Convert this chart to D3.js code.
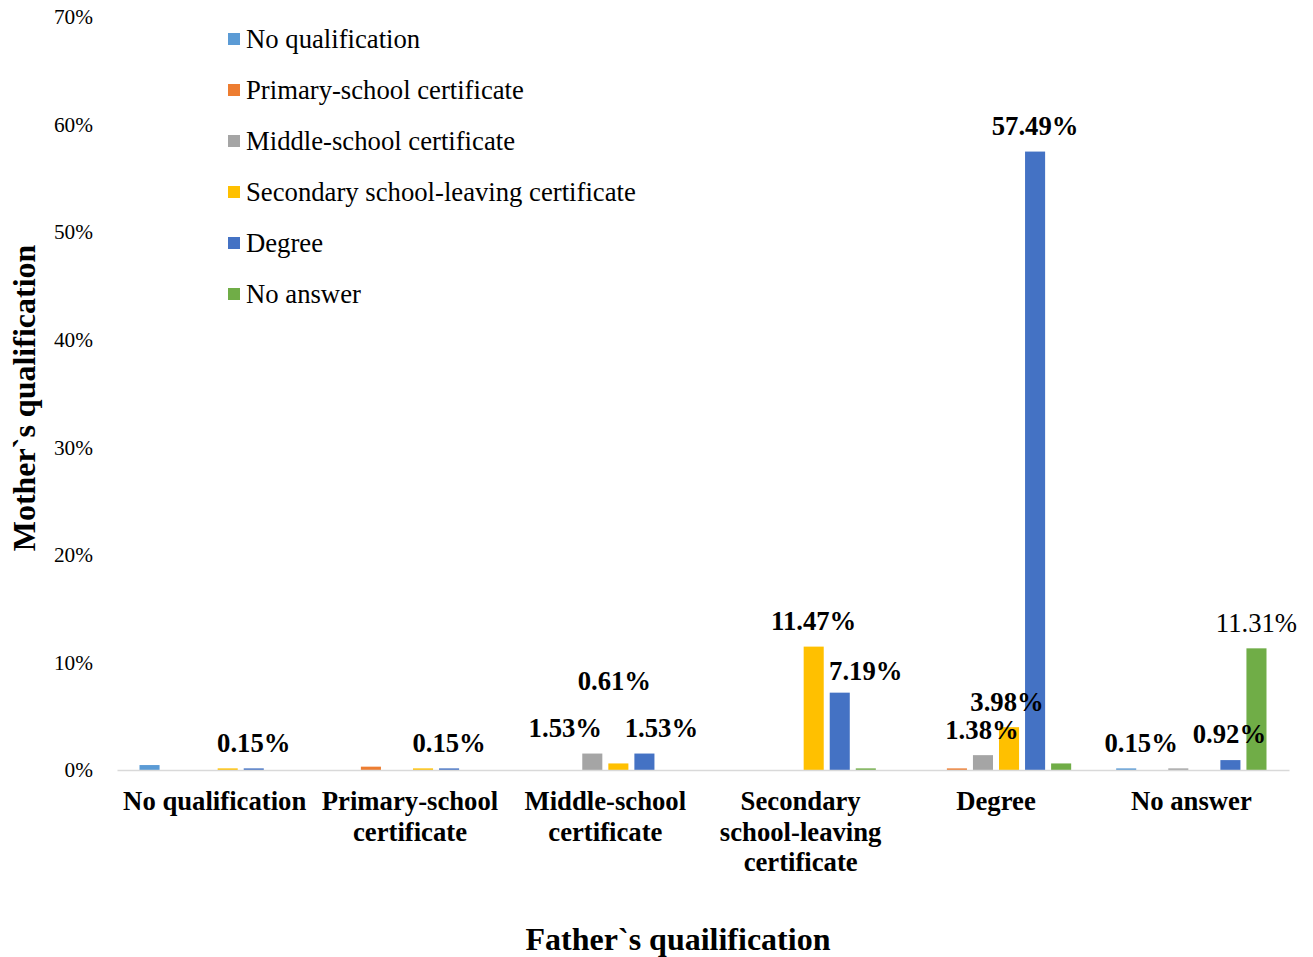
<!DOCTYPE html>
<html><head><meta charset="utf-8">
<script src="https://cdn.jsdelivr.net/npm/d3@7"></script>
<style>body{margin:0;background:#fff}svg{display:block}text{font-family:"Liberation Serif","Times New Roman",serif}</style>
</head><body><svg id="c" width="1313" height="957"></svg>
<script>
const categories = [["No qualification"],["Primary-school","certificate"],["Middle-school","certificate"],["Secondary","school-leaving","certificate"],["Degree"],["No answer"]];
const seriesNames = ["No qualification","Primary-school certificate","Middle-school certificate","Secondary school-leaving certificate","Degree","No answer"];
const seriesColors = ["#5B9BD5","#ED7D31","#A5A5A5","#FFC000","#4472C4","#70AD47"];
const sNoQual    = [0.46, 0, 0, 0, 0, 0.15];
const sPrimary   = [0, 0.31, 0, 0, 0.15, 0];
const sMiddle    = [0, 0, 1.53, 0, 1.38, 0.15];
const sSecondary = [0.15, 0.15, 0.61, 11.47, 3.98, 0];
const sDegree    = [0.15, 0.15, 1.53, 7.19, 57.49, 0.92];
const sNoAnswer  = [0, 0, 0, 0.15, 0.61, 11.31];
const yTicks = [0,10,20,30,40,50,60,70];
// labelled points: [category index, series index, text, bold]
const labelPts = [[0,4,"0.15%",1],[1,4,"0.15%",1],[2,2,"1.53%",1],[2,3,"0.61%",1],[2,4,"1.53%",1],
  [3,3,"11.47%",1],[3,4,"7.19%",1],[4,2,"1.38%",1],[4,3,"3.98%",1],[4,4,"57.49%",1],
  [5,0,"0.15%",1],[5,4,"0.92%",1],[5,5,"11.31%",0]];
// manual label nudges (dx, dy) as placed in the original
const labelNudge = [[0,0],[0,0],[-27,0],[-4,-57],[17,0],[0,0],[26,4],[-1,0],[-2,0],[0,0],[15,0],[-1,0],[0,0]];

const series = [sNoQual,sPrimary,sMiddle,sSecondary,sDegree,sNoAnswer];
const svg = d3.select("#c");
const x0 = d3.scaleBand().domain(d3.range(categories.length)).range([117,1289]);
const x1 = d3.scaleBand().domain(d3.range(seriesNames.length)).range([22.5, x0.bandwidth()-22.5]).paddingInner(0.23);
const y = d3.scaleLinear().domain([0,70]).range([770,17]);

// bars
const g = svg.append("g");
categories.forEach((c,ci)=>{
  series.forEach((s,si)=>{
    const v = s[ci]; if(!v) return;
    g.append("rect").attr("x", x0(ci)+x1(si)).attr("width", x1.bandwidth())
      .attr("y", y(v)).attr("height", y(0)-y(v)).attr("fill", seriesColors[si]);
  });
});

// y axis
const ya = svg.append("g").attr("transform","translate(93,0)")
  .call(d3.axisLeft(y).tickValues(yTicks).tickFormat(d=>d+"%").tickSize(0).tickPadding(0));
ya.select(".domain").remove();
ya.selectAll("text").attr("font-size",21.3).attr("fill","#000").style("font-family",'"Liberation Serif",serif');

// x axis baseline
const xa = svg.append("g").attr("transform","translate(0,770)").call(d3.axisBottom(x0).tickSize(0).tickFormat(""));
xa.select(".domain").attr("stroke","#D9D9D9").attr("stroke-width",1.5);
xa.selectAll(".tick").each(function(ci){
  const t = d3.select(this).append("text").attr("text-anchor","middle").attr("font-weight","bold")
    .attr("font-size",26.7).attr("fill","#000");
  categories[ci].forEach((line,li)=>t.append("tspan").attr("x",0).attr("y",40+li*30.5).text(line));
});

// data labels
labelPts.forEach((p,i)=>{
  const [ci,si,txt,b] = p;
  const v = series[si][ci];
  svg.append("text").attr("x", x0(ci)+x1(si)+x1.bandwidth()/2+labelNudge[i][0])
    .attr("y", y(v)-26+labelNudge[i][1]).attr("dy","0.35em").attr("text-anchor","middle")
    .attr("font-weight", b?"bold":"normal").attr("font-size",26.7).attr("fill","#000").text(txt);
});

// legend
const lg = svg.append("g").attr("transform","translate(228,39)");
seriesNames.forEach((n,i)=>{
  lg.append("rect").attr("x",0).attr("y",i*51-6).attr("width",12).attr("height",12).attr("fill",seriesColors[i]);
  lg.append("text").attr("x",18).attr("y",i*51).attr("dy","0.35em").attr("font-size",26.7).attr("fill","#000").text(n);
});

// axis titles
svg.append("text").attr("x",678).attr("y",939).attr("dy","0.35em").attr("text-anchor","middle")
  .attr("font-weight","bold").attr("font-size",32).text("Father`s quailification");
svg.append("text").attr("transform","translate(24,398) rotate(-90)").attr("dy","0.35em").attr("text-anchor","middle")
  .attr("font-weight","bold").attr("font-size",32).text("Mother`s qualification");
</script></body></html>
